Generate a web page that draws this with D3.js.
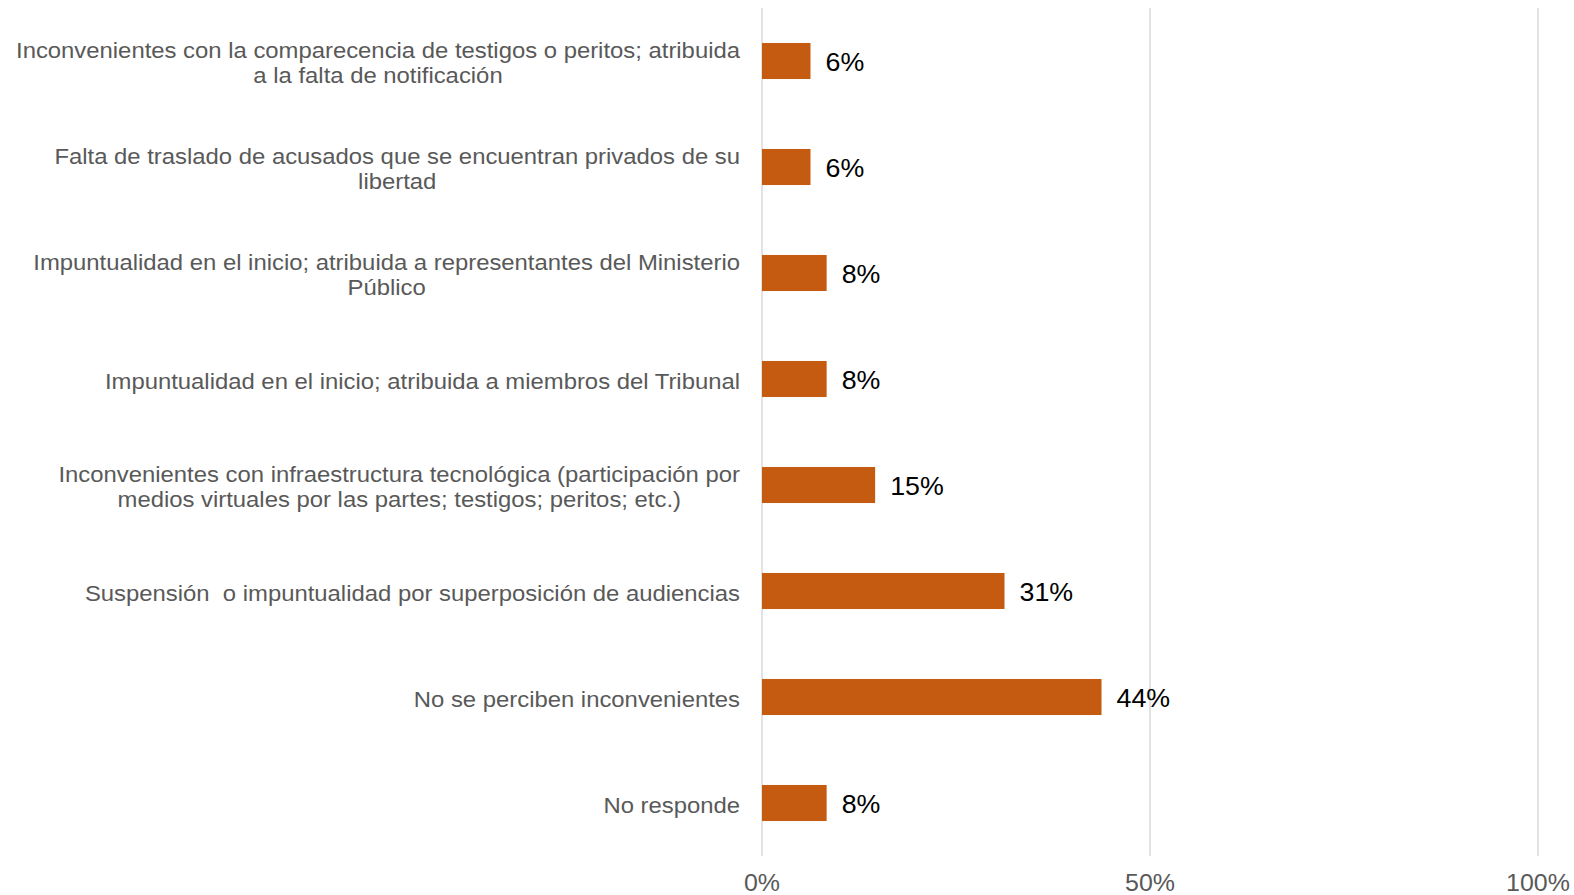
<!DOCTYPE html>
<html><head><meta charset="utf-8">
<script src="https://cdn.jsdelivr.net/npm/d3@7"></script>
<style>html,body{margin:0;padding:0;background:#fff;}svg{display:block;}text{white-space:pre;}</style>
</head><body>
<svg id="chart" width="1574" height="895"></svg>
<script>
const categories = [
  "Inconvenientes con la comparecencia de testigos o peritos; atribuida\na la falta de notificación",
  "Falta de traslado de acusados que se encuentran privados de su\nlibertad",
  "Impuntualidad en el inicio; atribuida a representantes del Ministerio\nPúblico",
  "Impuntualidad en el inicio; atribuida a miembros del Tribunal",
  "Inconvenientes con infraestructura tecnológica (participación por\nmedios virtuales por las partes; testigos; peritos; etc.)",
  "Suspensión  o impuntualidad por superposición de audiencias",
  "No se perciben inconvenientes",
  "No responde"
];
const values = [6.25, 6.25, 8.33, 8.33, 14.58, 31.25, 43.75, 8.33];
const valueLabels = ["6%", "6%", "8%", "8%", "15%", "31%", "44%", "8%"];
const tickValues = [0, 50, 100];

const FONT = "Liberation Sans, Arial, sans-serif";
const svg = d3.select("#chart");
const x = d3.scaleLinear().domain([0, 100]).range([762, 1538]);
const y = d3.scaleBand().domain(categories).range([8, 856]).paddingInner(0.66).paddingOuter(0.33);

// gridlines
svg.append("g").selectAll("line").data(tickValues).join("line")
  .attr("x1", d => x(d)).attr("x2", d => x(d))
  .attr("y1", 8).attr("y2", 856)
  .attr("stroke", "#d9d9d9").attr("stroke-width", 1.5);

// x axis labels (stretched slightly horizontally)
svg.append("g").selectAll("text").data(tickValues).join("text")
  .attr("transform", d => `translate(${x(d)},883) scale(1.04,1)`)
  .attr("text-anchor", "middle").attr("dy", "0.35em")
  .attr("font-family", FONT).attr("font-size", 24).attr("fill", "#595959")
  .text(d => d + "%");

// bars
svg.append("g").selectAll("rect").data(values).join("rect")
  .attr("x", x(0)).attr("y", (d, i) => y(categories[i]))
  .attr("width", d => x(d) - x(0)).attr("height", y.bandwidth())
  .attr("fill", "#c55a11");

// value labels
svg.append("g").selectAll("text").data(values).join("text")
  .attr("transform", (d, i) => `translate(${x(d) + 15},${y(categories[i]) + y.bandwidth() / 2 + 1}) scale(1.05,1)`)
  .attr("dy", "0.35em")
  .attr("font-family", FONT).attr("font-size", 25.5)
  .attr("fill", "#000").text((d, i) => valueLabels[i]);

// category labels
const lab = svg.append("g").selectAll("text").data(categories).join("text")
  .attr("transform", "translate(740,0) scale(1.085,1)")
  .attr("text-anchor", "middle")
  .attr("font-family", FONT).attr("font-size", 22)
  .attr("fill", "#595959");
lab.each(function(d) {
  const lines = d.split("\n");
  const cy = y(d) + y.bandwidth() / 2;
  const lh = 25;
  const t = d3.select(this);
  lines.forEach((ln, k) => {
    t.append("tspan").attr("y", cy + (k - (lines.length - 1) / 2) * lh + 2).attr("dy", "0.35em").text(ln);
  });
});
lab.each(function() {
  const t = d3.select(this);
  const spans = t.selectAll("tspan").nodes();
  const w = d3.max(spans, s => s.getComputedTextLength());
  t.selectAll("tspan").attr("x", -w / 2);
});
</script>
</body></html>
